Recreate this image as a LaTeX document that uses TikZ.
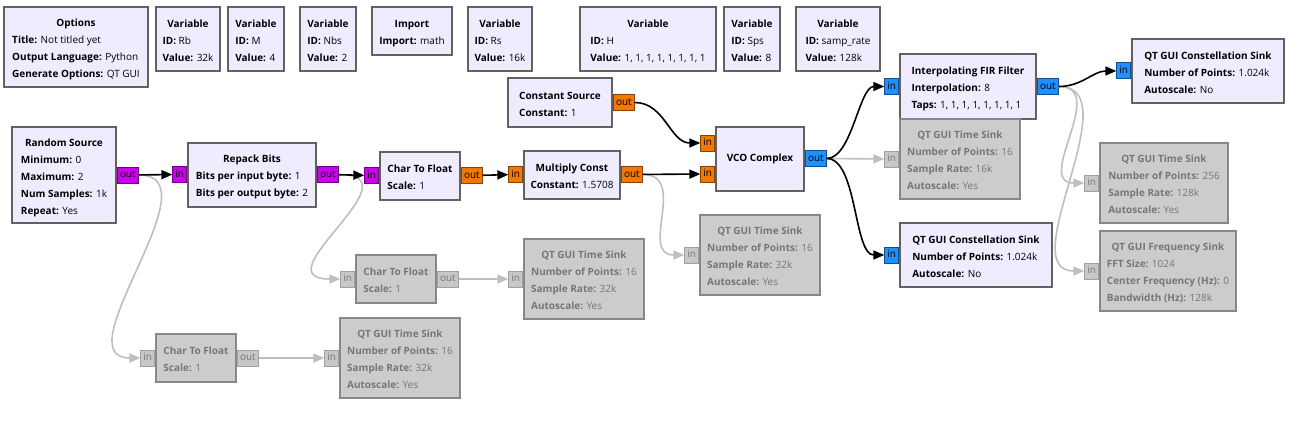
\documentclass[tikz,border=0pt]{standalone}
\usepackage{fontspec}
\setmainfont{Open Sans}
\usepackage{tikz}
\usetikzlibrary{arrows.meta}

\definecolor{blkfill}{RGB}{240,236,255}
\definecolor{blkdraw}{RGB}{97,97,97}
\definecolor{offfill}{RGB}{204,204,204}
\definecolor{offdraw}{RGB}{136,136,136}
\definecolor{offtext}{RGB}{118,118,118}
\definecolor{bytec}{RGB}{204,0,238}
\definecolor{floatc}{RGB}{242,120,0}
\definecolor{cplxc}{RGB}{30,144,255}
\definecolor{wireoff}{RGB}{190,190,190}

\newcommand{\kv}[2]{\textbf{#1:} #2}
\newcommand{\gtxt}[2]{\begin{tabular}{@{}l@{}}\multicolumn{1}{@{}c@{}}{\rule{0pt}{16pt}\textbf{#1}}\\#2\end{tabular}}

\tikzset{
  blk/.style={draw=blkdraw, line width=2pt, fill=blkfill, inner sep=0pt,
    font=\fontsize{10}{17}\selectfont},
  off/.style={draw=offdraw, fill=offfill, text=offtext},
  port/.style={draw, line width=1pt, inner xsep=2.5pt, inner ysep=0pt,
    minimum height=16, text height=7, text depth=2, font=\fontsize{10}{10}\selectfont},
  byteport/.style={port, fill=bytec, draw=bytec!55!black},
  floatport/.style={port, fill=floatc, draw=floatc!55!black},
  cplxport/.style={port, fill=cplxc, draw=cplxc!55!black},
  offport/.style={port, fill=offfill!110, draw=offdraw!80, text=offtext},
  wire/.style={line width=1.6pt, -{Triangle[length=11pt,width=9pt]}},
  wireoff/.style={wire, draw=wireoff}
}

\begin{document}
\begin{tikzpicture}[x=1pt,y=-1pt]
\useasboundingbox (0,0) rectangle (1312,436);

% variables and options
\node[blk, minimum width=144, minimum height=80] (opt) at (76,47)
  {\gtxt{Options}{\kv{Title}{Not titled yet}\\\kv{Output Language}{Python}\\\kv{Generate Options}{QT GUI}}};
\node[blk, minimum width=64, minimum height=64] (vrb) at (188,39) {\gtxt{Variable}{\kv{ID}{Rb}\\\kv{Value}{32k}}};
\node[blk, minimum width=56, minimum height=64] (vm) at (256,39) {\gtxt{Variable}{\kv{ID}{M}\\\kv{Value}{4}}};
\node[blk, minimum width=56, minimum height=64] (vnbs) at (328,39) {\gtxt{Variable}{\kv{ID}{Nbs}\\\kv{Value}{2}}};
\node[blk, minimum width=80, minimum height=48] (imp) at (412,31) {\gtxt{Import}{\kv{Import}{math}}};
\node[blk, minimum width=64, minimum height=64] (vrs) at (500,39) {\gtxt{Variable}{\kv{ID}{Rs}\\\kv{Value}{16k}}};
\node[blk, minimum width=136, minimum height=64] (vh) at (648,39) {\gtxt{Variable}{\kv{ID}{H}\\\kv{Value}{1, 1, 1, 1, 1, 1, 1, 1}}};
\node[blk, minimum width=56, minimum height=64] (vsps) at (752,39) {\gtxt{Variable}{\kv{ID}{Sps}\\\kv{Value}{8}}};
\node[blk, minimum width=84, minimum height=64] (vsr) at (838,39) {\gtxt{Variable}{\kv{ID}{samp\_rate}\\\kv{Value}{128k}}};

% enabled blocks
\node[blk, minimum width=104, minimum height=96] (rnd) at (64,175)
  {\gtxt{Random Source}{\kv{Minimum}{0}\\\kv{Maximum}{2}\\\kv{Num Samples}{1k}\\\kv{Repeat}{Yes}}};
\node[blk, minimum width=128, minimum height=64] (rep) at (252,174.5)
  {\gtxt{Repack Bits}{\kv{Bits per input byte}{1}\\\kv{Bits per output byte}{2}}};
\node[blk, minimum width=80, minimum height=48] (c2f) at (420,175.5) {\gtxt{Char To Float}{\kv{Scale}{1}}};
\node[blk, minimum width=96, minimum height=48] (mul) at (572,174.5) {\gtxt{Multiply Const}{\kv{Constant}{1.5708}}};
\node[blk, minimum width=104, minimum height=48] (csrc) at (560,102.5) {\gtxt{Constant Source}{\kv{Constant}{1}}};
\node[blk, minimum width=88, minimum height=64] (vco) at (760,158.5) {\rule[-2pt]{0pt}{2pt}\textbf{VCO Complex}};
\node[blk, minimum width=136, minimum height=64] (fir) at (968,86.5)
  {\gtxt{Interpolating FIR Filter}{\kv{Interpolation}{8}\\\kv{Taps}{1, 1, 1, 1, 1, 1, 1, 1}}};
\node[blk, minimum width=152, minimum height=64] (csk1) at (1208,71)
  {\gtxt{QT GUI Constellation Sink}{\kv{Number of Points}{1.024k}\\\kv{Autoscale}{No}}};
\node[blk, minimum width=152, minimum height=64] (csk2) at (976,255)
  {\gtxt{QT GUI Constellation Sink}{\kv{Number of Points}{1.024k}\\\kv{Autoscale}{No}}};

% disabled blocks
\node[blk, off, minimum width=120, minimum height=80] (tsk1) at (960,159)
  {\gtxt{QT GUI Time Sink}{\kv{Number of Points}{16}\\\kv{Sample Rate}{16k}\\\kv{Autoscale}{Yes}}};
\node[blk, off, minimum width=128, minimum height=80] (tsk2) at (1164,183)
  {\gtxt{QT GUI Time Sink}{\kv{Number of Points}{256}\\\kv{Sample Rate}{128k}\\\kv{Autoscale}{Yes}}};
\node[blk, off, minimum width=136, minimum height=80] (fsk) at (1168,271)
  {\gtxt{QT GUI Frequency Sink}{\kv{FFT Size}{1024}\\\kv{Center Frequency (Hz)}{0}\\\kv{Bandwidth (Hz)}{128k}}};
\node[blk, off, minimum width=120, minimum height=80] (tsk3) at (760,255)
  {\gtxt{QT GUI Time Sink}{\kv{Number of Points}{16}\\\kv{Sample Rate}{32k}\\\kv{Autoscale}{Yes}}};
\node[blk, off, minimum width=80, minimum height=48] (c2f2) at (396,279) {\gtxt{Char To Float}{\kv{Scale}{1}}};
\node[blk, off, minimum width=120, minimum height=80] (tsk4) at (584,279)
  {\gtxt{QT GUI Time Sink}{\kv{Number of Points}{16}\\\kv{Sample Rate}{32k}\\\kv{Autoscale}{Yes}}};
\node[blk, off, minimum width=80, minimum height=48] (c2f3) at (196,358) {\gtxt{Char To Float}{\kv{Scale}{1}}};
\node[blk, off, minimum width=120, minimum height=80] (tsk5) at (400,358)
  {\gtxt{QT GUI Time Sink}{\kv{Number of Points}{16}\\\kv{Sample Rate}{32k}\\\kv{Autoscale}{Yes}}};

% ports
\node[byteport, anchor=west] (rnd-o) at (rnd.east) {out};
\node[byteport, anchor=east] (rep-i) at (rep.west) {in};
\node[byteport, anchor=west] (rep-o) at (rep.east) {out};
\node[byteport, anchor=east] (c2f-i) at (c2f.west) {in};
\node[floatport, anchor=west] (c2f-o) at (c2f.east) {out};
\node[floatport, anchor=east] (mul-i) at (mul.west) {in};
\node[floatport, anchor=west] (mul-o) at (mul.east) {out};
\node[floatport, anchor=west] (csrc-o) at (csrc.east) {out};
\node[floatport, anchor=east] (vco-i0) at ([yshift=15.5pt]vco.west) {in};
\node[floatport, anchor=east] (vco-i1) at ([yshift=-15.5pt]vco.west) {in};
\node[cplxport, anchor=west] (vco-o) at (vco.east) {out};
\node[cplxport, anchor=east] (fir-i) at (fir.west) {in};
\node[cplxport, anchor=west] (fir-o) at (fir.east) {out};
\node[cplxport, anchor=east] (csk1-i) at (csk1.west) {in};
\node[cplxport, anchor=east] (csk2-i) at (csk2.west) {in};
\node[offport, anchor=east] (tsk1-i) at (tsk1.west) {in};
\node[offport, anchor=east] (tsk2-i) at (tsk2.west) {in};
\node[offport, anchor=east] (fsk-i) at (fsk.west) {in};
\node[offport, anchor=east] (tsk3-i) at (tsk3.west) {in};
\node[offport, anchor=east] (c2f2-i) at (c2f2.west) {in};
\node[offport, anchor=west] (c2f2-o) at (c2f2.east) {out};
\node[offport, anchor=east] (tsk4-i) at (tsk4.west) {in};
\node[offport, anchor=east] (c2f3-i) at (c2f3.west) {in};
\node[offport, anchor=west] (c2f3-o) at (c2f3.east) {out};
\node[offport, anchor=east] (tsk5-i) at (tsk5.west) {in};

% disabled connections
\draw[wireoff] (rnd-o.east) to[out=0,in=180,looseness=1.1] (c2f3-i.west);
\draw[wireoff] (rep-o.east) to[out=0,in=180,looseness=2] (c2f2-i.west);
\draw[wireoff] (c2f2-o) -- (tsk4-i);
\draw[wireoff] (c2f3-o) -- (tsk5-i);
\draw[wireoff] (mul-o.east) to[out=0,in=180,looseness=1.3] (tsk3-i.west);
\draw[wireoff] (vco-o) -- (tsk1-i);
\draw[wireoff] (fir-o.east) to[out=0,in=180,looseness=1.3] (tsk2-i.west);
\draw[wireoff] (fir-o.east) to[out=0,in=180] (fsk-i.west);

% enabled connections
\draw[wire] (rnd-o) -- (rep-i);
\draw[wire] (rep-o) -- (c2f-i);
\draw[wire] (c2f-o) -- (mul-i);
\draw[wire] (mul-o) -- (vco-i1);
\draw[wire] (csrc-o.east) to[out=0,in=180] (vco-i0.west);
\draw[wire] (vco-o.east) to[out=0,in=180,looseness=0.7] (fir-i.west);
\draw[wire] (vco-o.east) to[out=0,in=180,looseness=0.7] (csk2-i.west);
\draw[wire] (fir-o.east) to[out=0,in=180] (csk1-i.west);
\end{tikzpicture}
\end{document}
